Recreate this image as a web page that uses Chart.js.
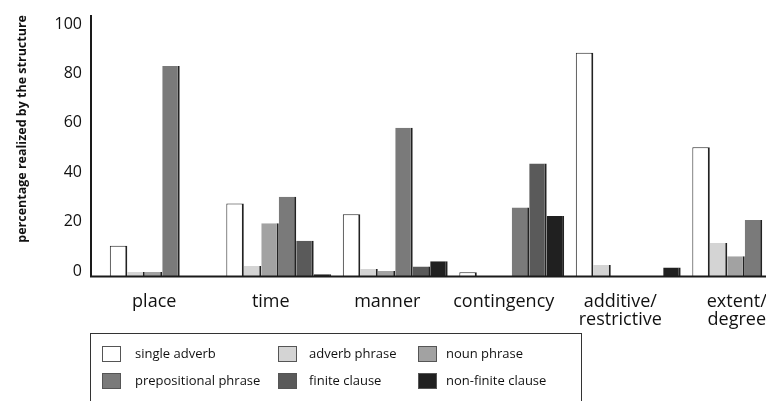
<!DOCTYPE html>
<html>
<head>
<meta charset="utf-8">
<script src="https://cdn.jsdelivr.net/npm/chart.js@4.4.1/dist/chart.umd.min.js"></script>
<style>
  html, body { margin: 0; padding: 0; background: #fff; }
  #wrap { position: relative; width: 766px; height: 401px; overflow: hidden; }
  #chart { position: absolute; left: 0; top: 0; }
  #legend {
    position: absolute; left: 90px; top: 333px; width: 492px; height: 90px;
    border: 1px solid #333; box-sizing: border-box;
    font-family: 'Open Sans', sans-serif; font-size: 13px; color: #111;
  }
  #legend .item { position: absolute; height: 16px; line-height: 16px; white-space: nowrap; }
  #legend .box { position: absolute; left: 0; top: 0; width: 19px; height: 16px; box-sizing: border-box; border: 1px solid #555; }
  #legend .txt { position: absolute; top: -1px; }
</style>
</head>
<body>
<div id="wrap">
  <canvas id="chart" width="810" height="401"></canvas>
  <div id="legend"></div>
</div>
<script>
// Categorías y series
const categories = ['place', 'time', 'manner', 'contingency', ['additive/', 'restrictive'], ['extent/', 'degree']];
const seriesNames = ['single adverb', 'adverb phrase', 'noun phrase', 'prepositional phrase', 'finite clause', 'non-finite clause'];
const seriesColors = ['#ffffff', '#d4d4d4', '#a2a2a2', '#7a7a7a', '#5a5a5a', '#202020'];

const singleAdverb = [12.3, 29.4, 25, 1.5, 90.4, 52.1];
const adverbPhrase = [1.6, 4.0, 2.8, 0, 4.5, 13.4];
const nounPhrase = [1.6, 21.4, 2.0, 0, 0, 8.0];
const prepositionalPhrase = [85, 32.1, 60, 27.7, 0, 22.7];
const finiteClause = [0, 14.3, 3.8, 45.6, 0, 0];
const nonFiniteClause = [0, 0.7, 6.0, 24.3, 3.4, 0];

const yTicks = [0, 20, 40, 60, 80, 100];

Chart.defaults.font.family = "'Open Sans', sans-serif";
Chart.defaults.color = '#111';

const seriesValues = [singleAdverb, adverbPhrase, nounPhrase, prepositionalPhrase, finiteClause, nonFiniteClause];

// Ejes dibujados a mano: el eje vertical queda un poco separado del primer grupo
const axisLines = {
    id: 'axisLines',
    afterDatasetsDraw(chart) {
        const { ctx, chartArea } = chart;
        const y0 = chart.scales.y.getPixelForValue(0) + 0.5;
        const xAxis = chartArea.left - 13;
        ctx.save();
        ctx.strokeStyle = '#1a1a1a';
        ctx.lineWidth = 2;
        ctx.beginPath();
        ctx.moveTo(xAxis, chartArea.top);
        ctx.lineTo(xAxis, y0);
        ctx.lineTo(chart.width, y0);
        ctx.stroke();
        ctx.restore();
    }
};

const ctx = document.getElementById('chart').getContext('2d');
const chart = new Chart(ctx, {
    type: 'bar',
    data: {
        labels: categories,
        datasets: seriesNames.map((name, i) => ({
            label: name,
            data: seriesValues[i],
            backgroundColor: seriesColors[i],
            borderColor: '#222',
            borderWidth: i === 0 ? { left: 1, top: 1, right: 2, bottom: 0 } : { left: 0, top: 0, right: 2, bottom: 0 },
            borderSkipped: false,
            barPercentage: 1.0,
            categoryPercentage: 0.9
        }))
    },
    options: {
        responsive: false,
        animation: false,
        layout: { padding: { top: 15, right: 7, left: 0, bottom: 0 } },
        plugins: {
            legend: { display: false },
            tooltip: { enabled: false }
        },
        scales: {
            x: {
                grid: { display: false },
                border: { display: false },
                ticks: {
                    font: { size: 18, lineHeight: 1.0 },
                    padding: 9,
                    labelOffset: -8,
                    maxRotation: 0,
                    autoSkip: false
                },
                afterFit: (scale) => { scale.height = 125; }
            },
            y: {
                min: 0,
                max: 105.7,
                grid: { display: false },
                border: { display: false },
                afterBuildTicks: (scale) => { scale.ticks = yTicks.map(v => ({ value: v })); },
                ticks: {
                    font: { size: 16 },
                    padding: 14,
                    labelOffset: -5
                },
                title: {
                    display: true,
                    text: 'percentage realized by the structure',
                    align: 'end',
                    font: { size: 12.5, weight: 'bold' },
                    padding: { top: 15, bottom: 0 }
                },
                afterFit: (scale) => {
                    scale.width = 104;
                    scale.paddingTop = 0;
                    scale.paddingBottom = 0;
                }
            }
        }
    },
    plugins: [axisLines]
});

// Leyenda en tres columnas
const legend = document.getElementById('legend');
const colX = [11, 187, 327];
const textX = [33, 31, 28];
const rowY = [12, 39];
seriesNames.forEach((name, i) => {
    const item = document.createElement('div');
    item.className = 'item';
    item.style.left = colX[i % 3] + 'px';
    item.style.top = rowY[Math.floor(i / 3)] + 'px';
    item.innerHTML = `<span class="box" style="background:${seriesColors[i]}"></span><span class="txt" style="left:${textX[i % 3]}px">${name}</span>`;
    legend.appendChild(item);
});
</script>
</body>
</html>
